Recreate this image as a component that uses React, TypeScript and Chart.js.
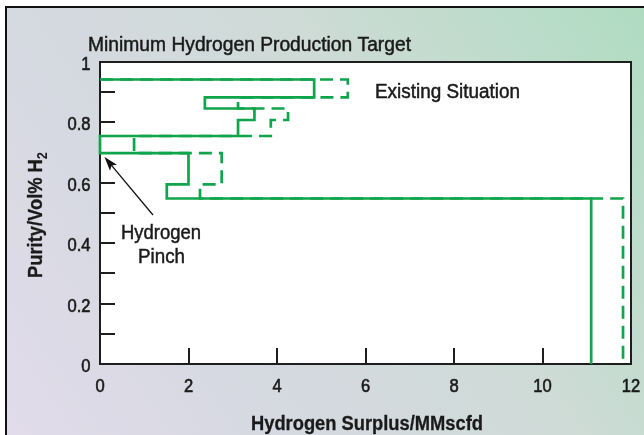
import React, { useEffect, useRef } from 'react';
import { Chart, registerables } from 'chart.js';
Chart.register(...registerables);

// Purity levels (vol% H2 fraction) at each corner of the step curves
const purityPath = [0.942, 0.942, 0.883, 0.883, 0.846, 0.846, 0.808, 0.808, 0.755, 0.755, 0.698, 0.698, 0.595, 0.595, 0.548, 0.548, 0];
// Hydrogen surplus (MMscfd) – minimum production target (solid)
const targetSurplus = [0, 4.84, 4.84, 2.37, 2.37, 3.49, 3.49, 3.12, 3.12, 0, 0, 2.0, 2.0, 1.51, 1.51, 11.1, 11.1];
// Hydrogen surplus (MMscfd) – existing situation (dashed)
const existingSurplus = [0, 5.6, 5.6, 3.12, 3.12, 4.25, 4.25, 3.86, 3.86, 0.77, 0.77, 2.75, 2.75, 2.26, 2.26, 11.82, 11.82];

const xTickValues = [0, 2, 4, 6, 8, 10, 12];
const xTickLabels = ['0', '2', '4', '6', '8', '10', '12'];
const yTickValues = [0, 0.2, 0.4, 0.6, 0.8, 1];
const yTickLabels = ['0', '0.2', '0.4', '0.6', '0.8', '1'];
const yMinorTicks = [0.1, 0.2, 0.3, 0.4, 0.5, 0.6, 0.7, 0.8, 0.9];
const xMinorTicks = [2, 4, 6, 8, 10];

const GREEN = '#0fa54a';
const TEXT = '#1a1a1a';
const FF = '"Liberation Sans", Arial, sans-serif';

function fitText(ctx: CanvasRenderingContext2D, text: string, x: number, y: number, width: number, font: string, align: 'left' | 'center' = 'left', weight = 0.5) {
  ctx.save();
  ctx.font = font;
  ctx.textBaseline = 'alphabetic';
  ctx.textAlign = 'left';
  const w = ctx.measureText(text).width;
  const sx = width / w;
  const left = align === 'center' ? x - width / 2 : x;
  ctx.translate(left, y);
  ctx.scale(sx, 1);
  ctx.fillText(text, 0, 0);
  if (weight > 0) {
    ctx.lineWidth = weight;
    ctx.strokeStyle = TEXT;
    ctx.strokeText(text, 0, 0);
  }
  ctx.restore();
}

function condText(ctx: CanvasRenderingContext2D, text: string, x: number, y: number, sx: number, font: string, align: 'left' | 'center' | 'right') {
  ctx.save();
  ctx.font = font;
  ctx.textBaseline = 'alphabetic';
  ctx.textAlign = 'left';
  const w = ctx.measureText(text).width * sx;
  const left = align === 'center' ? x - w / 2 : align === 'right' ? x - w : x;
  ctx.translate(left, y);
  ctx.scale(sx, 1);
  ctx.fillText(text, 0, 0);
  ctx.lineWidth = 0.6;
  ctx.strokeStyle = TEXT;
  ctx.strokeText(text, 0, 0);
  ctx.restore();
}

export default function App() {
  const ref = useRef<HTMLCanvasElement>(null);
  useEffect(() => {
    document.body.style.margin = '0';

    const decor = {
      id: 'decor',
      beforeDraw(chart: any) {
        const { ctx, width, height, chartArea: a } = chart;
        ctx.save();
        ctx.fillStyle = '#ffffff';
        ctx.fillRect(0, 0, width, height);
        const g = ctx.createLinearGradient(6, height, width, 7);
        g.addColorStop(0, '#e1dbea');
        g.addColorStop(0.3, '#d6d9e1');
        g.addColorStop(0.62, '#cedbd6');
        g.addColorStop(1, '#afdcc1');
        ctx.fillStyle = g;
        ctx.fillRect(6, 7, width - 6, height - 7);
        ctx.strokeStyle = '#111';
        ctx.lineWidth = 2;
        ctx.beginPath();
        ctx.moveTo(6, height);
        ctx.lineTo(6, 7);
        ctx.lineTo(width, 7);
        ctx.stroke();
        ctx.fillStyle = '#ffffff';
        ctx.fillRect(a.left, a.top, a.right - a.left, a.bottom - a.top);
        ctx.restore();
      },
      beforeDatasetsDraw(chart: any) {
        const { ctx, chartArea: a, scales } = chart;
        ctx.save();
        ctx.strokeStyle = '#1e1e1e';
        ctx.lineWidth = 2;
        ctx.beginPath();
        for (const v of yMinorTicks) {
          const y = Math.round(scales.y.getPixelForValue(v));
          ctx.moveTo(a.left, y);
          ctx.lineTo(a.left + 15, y);
        }
        for (const v of xMinorTicks) {
          const x = Math.round(scales.x.getPixelForValue(v));
          ctx.moveTo(x, a.bottom);
          ctx.lineTo(x, a.bottom - 16);
        }
        ctx.stroke();
        ctx.strokeRect(a.left, a.top, a.right - a.left, a.bottom - a.top);
        ctx.restore();
      },
      afterDraw(chart: any) {
        const { ctx, chartArea: a, scales } = chart;
        ctx.save();
        ctx.fillStyle = TEXT;
        // tick labels positioned by the scales
        xTickValues.forEach((v, i) => {
          condText(ctx, xTickLabels[i], scales.x.getPixelForValue(v), a.bottom + 27.5, 0.92, `18px ${FF}`, 'center');
        });
        yTickValues.forEach((v, i) => {
          condText(ctx, yTickLabels[i], a.left - 9.5, scales.y.getPixelForValue(v) + 8, 0.92, `18px ${FF}`, 'right');
        });
        fitText(ctx, 'Minimum Hydrogen Production Target', 88, 51, 323, `20px ${FF}`);
        fitText(ctx, 'Existing Situation', 375, 98, 145, `20px ${FF}`);
        fitText(ctx, 'Hydrogen', 121, 239, 80, `21px ${FF}`);
        fitText(ctx, 'Pinch', 138, 263, 47, `21px ${FF}`);
        fitText(ctx, 'Hydrogen Surplus/MMscfd', 367, 430, 232, `bold 20px ${FF}`, 'center', 0.3);
        // y title with subscript
        ctx.save();
        ctx.translate(41.5, 215);
        ctx.rotate(-Math.PI / 2);
        ctx.font = `bold 20px ${FF}`;
        const main = 'Purity/Vol% H';
        const wMain = ctx.measureText(main).width;
        ctx.font = `bold 14px ${FF}`;
        const wSub = ctx.measureText('2').width;
        const target = 126;
        const sx = target / (wMain + wSub);
        ctx.scale(sx, 1);
        const start = -(wMain + wSub) / 2;
        ctx.textBaseline = 'alphabetic';
        ctx.strokeStyle = TEXT;
        ctx.lineWidth = 0.3;
        ctx.font = `bold 20px ${FF}`;
        ctx.fillText(main, start, 0);
        ctx.strokeText(main, start, 0);
        ctx.font = `bold 14px ${FF}`;
        ctx.fillText('2', start + wMain, 5);
        ctx.restore();
        // arrow
        ctx.strokeStyle = '#111';
        ctx.fillStyle = '#111';
        ctx.lineWidth = 1.3;
        const x1 = 153, y1 = 215, x2 = 104.5, y2 = 157;
        const ang = Math.atan2(y2 - y1, x2 - x1);
        const c = Math.cos(ang), s = Math.sin(ang);
        ctx.beginPath();
        ctx.moveTo(x1, y1);
        ctx.lineTo(x2 - c * 9, y2 - s * 9);
        ctx.stroke();
        ctx.beginPath();
        ctx.moveTo(x2, y2);
        ctx.lineTo(x2 - c * 14 + s * 4.5, y2 - s * 14 - c * 4.5);
        ctx.lineTo(x2 - c * 11, y2 - s * 11);
        ctx.lineTo(x2 - c * 14 - s * 4.5, y2 - s * 14 + c * 4.5);
        ctx.closePath();
        ctx.fill();
        ctx.restore();
      },
    };

    const toPts = (xs: number[], ys: number[]) => xs.map((x, i) => ({ x, y: ys[i] }));

    const chart = new Chart(ref.current as HTMLCanvasElement, {
      type: 'line',
      data: {
        datasets: [
          {
            label: 'Minimum Hydrogen Production Target',
            data: toPts(targetSurplus, purityPath),
            borderColor: GREEN,
            borderWidth: 2.7,
            pointRadius: 0,
            tension: 0,
            fill: false,
            clip: 4,
            order: 0,
          } as any,
          {
            label: 'Existing Situation',
            data: toPts(existingSurplus, purityPath),
            borderColor: GREEN,
            borderWidth: 2.7,
            borderDash: [13, 7],
            pointRadius: 0,
            tension: 0,
            fill: false,
            clip: 4,
            order: 1,
          } as any,
        ],
      },
      options: {
        animation: false,
        responsive: false,
        layout: { padding: { top: 62, right: 13, left: 0, bottom: 0 } },
        plugins: { legend: { display: false }, tooltip: { enabled: false } },
        scales: {
          x: {
            type: 'linear',
            min: 0,
            max: 12,
            afterFit: (s: any) => { s.height = 71; s.paddingLeft = 0; s.paddingRight = 0; },
            afterBuildTicks: (s: any) => { s.ticks = xTickValues.map((v) => ({ value: v })); },
            grid: { display: false, drawTicks: false },
            border: { display: false },
            ticks: { display: false },
          },
          y: {
            type: 'linear',
            min: 0,
            max: 1,
            afterFit: (s: any) => { s.width = 100; s.paddingTop = 0; s.paddingBottom = 0; },
            afterBuildTicks: (s: any) => { s.ticks = yTickValues.map((v) => ({ value: v })); },
            grid: { display: false, drawTicks: false },
            border: { display: false },
            ticks: { display: false },
          },
        },
      },
      plugins: [decor],
    });
    return () => chart.destroy();
  }, []);

  return (
    <div style={{ position: 'fixed', left: 0, top: 0, width: 644, height: 435 }}>
      <canvas ref={ref} width={644} height={435} style={{ width: 644, height: 435 }} />
    </div>
  );
}
